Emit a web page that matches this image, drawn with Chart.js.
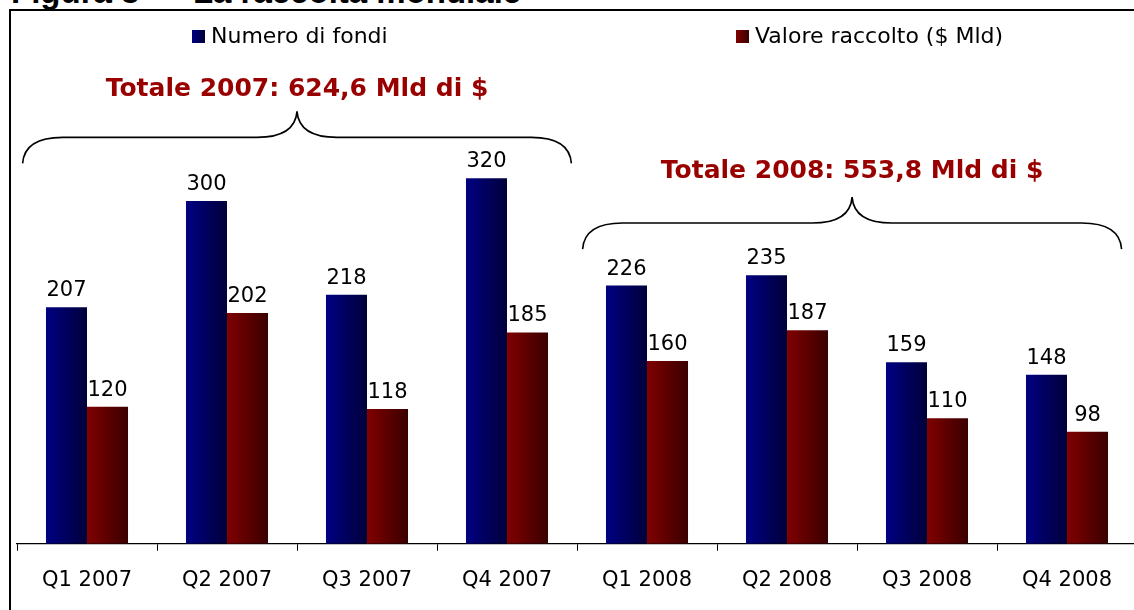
<!DOCTYPE html>
<html>
<head>
<meta charset="utf-8">
<script src="https://cdn.jsdelivr.net/npm/chart.js@4/dist/chart.umd.min.js"></script>
<style>
  html, body { margin: 0; padding: 0; background: #fff; overflow: hidden; width: 1134px; height: 610px; }
  #title { position: absolute; left: 11px; top: -25px; font: bold 33px "Liberation Sans", Arial, sans-serif; line-height: 33px; white-space: pre; color: #000; }
  #title span + span { margin-left: 26px; }
  #frame { position: absolute; left: 9px; top: 9px; width: 1200px; height: 700px; border-left: 2px solid #000; border-top: 2px solid #000; }
  #chart { position: absolute; left: 0; top: 0; }
</style>
</head>
<body>
<div id="title"><span>Figura 3 –</span><span>La raccolta mondiale</span></div>
<div id="frame"></div>
<canvas id="chart" width="1160" height="610"></canvas>
<script>
  // Data
  const categories = ["Q1 2007", "Q2 2007", "Q3 2007", "Q4 2007", "Q1 2008", "Q2 2008", "Q3 2008", "Q4 2008"];
  const numeroFondi = [207, 300, 218, 320, 226, 235, 159, 148];
  const valoreRaccolto = [120, 202, 118, 185, 160, 187, 110, 98];
  const seriesNames = ["Numero di fondi", "Valore raccolto ($ Mld)"];
  const totalLabels = ["Totale 2007: 624,6 Mld di $", "Totale 2008: 553,8 Mld di $"];

  const FONT = '"DejaVu Sans", Verdana, sans-serif';
  const gradColors = [["#000082", "#00003a"], ["#800000", "#3a0000"]];

  function hGrad(ctx, x0, x1, cols) {
    const g = ctx.createLinearGradient(x0, 0, x1, 0);
    g.addColorStop(0, cols[0]);
    g.addColorStop(1, cols[1]);
    return g;
  }

  // Horizontal gradient on every bar (own options copy per bar)
  const barGradients = {
    id: "barGradients",
    beforeDatasetsDraw(chart) {
      const ctx = chart.ctx;
      chart.data.datasets.forEach((ds, i) => {
        chart.getDatasetMeta(i).data.forEach((bar) => {
          const g = hGrad(ctx, bar.x - bar.width / 2, bar.x + bar.width / 2, gradColors[i]);
          bar.options = Object.assign({}, bar.options, { backgroundColor: g });
        });
      });
    },
  };

  // Value labels above bars
  const valueLabels = {
    id: "valueLabels",
    afterDatasetsDraw(chart) {
      const ctx = chart.ctx;
      ctx.save();
      ctx.font = "21px " + FONT;
      ctx.fillStyle = "#000";
      ctx.textAlign = "center";
      ctx.textBaseline = "alphabetic";
      chart.data.datasets.forEach((ds, i) => {
        chart.getDatasetMeta(i).data.forEach((bar, j) => {
          ctx.fillText(String(ds.data[j]), bar.x, bar.y - 11);
        });
      });
      ctx.restore();
    },
  };

  // Legend spread across the top
  const spreadLegend = {
    id: "spreadLegend",
    afterDraw(chart, args, opts) {
      const ctx = chart.ctx;
      ctx.save();
      ctx.font = "22px " + FONT;
      ctx.textBaseline = "middle";
      ctx.textAlign = "left";
      chart.data.datasets.forEach((ds, i) => {
        const x = opts.x[i], y = opts.y;
        ctx.fillStyle = hGrad(ctx, x, x + 13, gradColors[i]);
        ctx.fillRect(x, y - 7, 13, 13);
        ctx.fillStyle = "#000";
        ctx.fillText(ds.label, x + 19, y);
      });
      ctx.restore();
    },
  };

  // Curly braces with yearly totals
  const braces = {
    id: "braces",
    afterDraw(chart, args, opts) {
      const ctx = chart.ctx;
      const xs = chart.scales.x, ys = chart.scales.y;
      opts.groups.forEach((g, i) => {
        const x0 = xs.getPixelForValue(g.from), x1 = xs.getPixelForValue(g.to);
        const yEnd = ys.getPixelForValue(g.level);
        const yH = yEnd - 26, yP = yH - 26;
        const xm = (x0 + x1) / 2;
        ctx.save();
        ctx.strokeStyle = "#000";
        ctx.lineWidth = 1.6;
        ctx.beginPath();
        ctx.moveTo(x0, yEnd);
        ctx.quadraticCurveTo(x0 + 2, yH, x0 + 40, yH);
        ctx.lineTo(xm - 40, yH);
        ctx.quadraticCurveTo(xm - 2, yH, xm, yP);
        ctx.quadraticCurveTo(xm + 2, yH, xm + 40, yH);
        ctx.lineTo(x1 - 40, yH);
        ctx.quadraticCurveTo(x1 - 2, yH, x1, yEnd);
        ctx.stroke();
        ctx.font = "bold 25px " + FONT;
        ctx.fillStyle = "#990000";
        ctx.textAlign = "center";
        ctx.textBaseline = "alphabetic";
        ctx.fillText(totalLabels[i], xm, yP - g.gap);
        ctx.restore();
      });
    },
  };

  const config = {
    type: "bar",
    data: {
      labels: categories,
      datasets: [
        { label: seriesNames[0], data: numeroFondi, backgroundColor: "#000060" },
        { label: seriesNames[1], data: valoreRaccolto, backgroundColor: "#600000" },
      ],
    },
    options: {
      responsive: false,
      animation: false,
      events: [],
      categoryPercentage: 0.586,
      barPercentage: 1.0,
      layout: { padding: { left: 17, right: 23, top: 64, bottom: 0 } },
      plugins: {
        legend: { display: false },
        tooltip: { enabled: false },
        spreadLegend: { x: [192, 736], y: 37 },
        braces: {
          groups: [
            { from: -0.46, to: 3.46, level: 333, gap: 15 },
            { from: 3.54, to: 7.39, level: 258, gap: 19 },
          ],
        },
      },
      scales: {
        x: {
          grid: { display: true, drawOnChartArea: false, drawTicks: true, tickLength: 7, color: "#000", offset: true },
          border: { display: true, color: "#000", width: 1.3 },
          ticks: { color: "#000", font: { family: FONT, size: 21 }, padding: 17, maxRotation: 0, autoSkip: false },
        },
        y: { display: false, min: 0, max: 420 },
      },
    },
    plugins: [barGradients, valueLabels, spreadLegend, braces],
  };

  const myChart = new Chart(document.getElementById("chart"), config);
</script>
</body>
</html>
